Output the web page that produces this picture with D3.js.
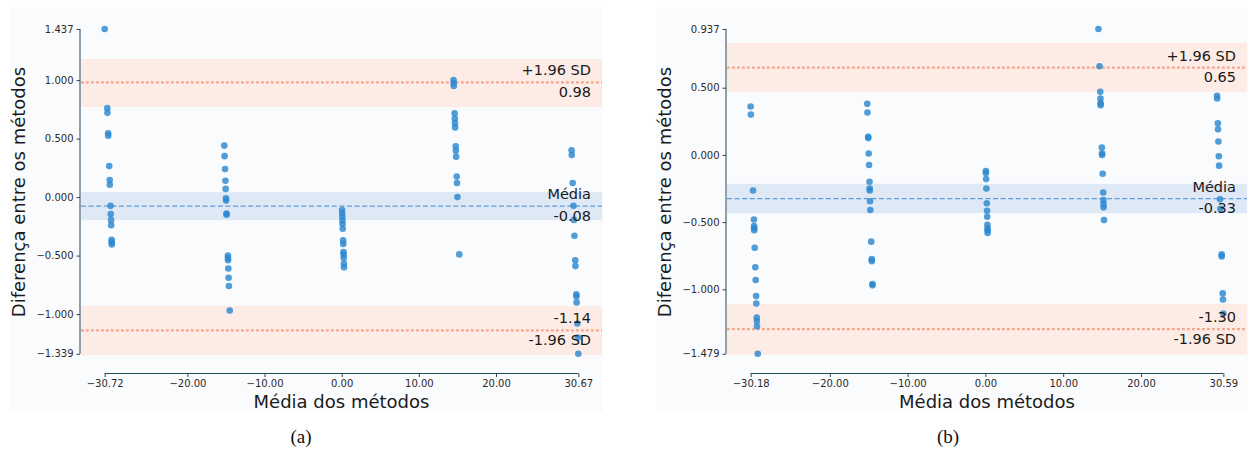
<!DOCTYPE html>
<html>
<head>
<meta charset="utf-8">
<script src="https://cdn.jsdelivr.net/npm/d3@7"></script>
<style>
  html, body { margin: 0; padding: 0; background: #ffffff; }
  svg { display: block; }
</style>
</head>
<body>
<svg id="chart" width="1248" height="450"></svg>
<script>
// ---------------- Panel (a) data ----------------
const meanA = [
  -30.72, -30.38, -30.36, -30.27, -30.26, -30.13, -30.07, -30.05, -29.96, -29.93, -29.90, -29.88, -29.82, -29.81, -29.80,
  -15.22, -15.18, -15.12, -15.07, -15.04, -14.995, -14.985, -14.93, -14.925, -14.75, -14.74, -14.73, -14.695, -14.655, -14.62, -14.515,
  0.055, 0.07, 0.085, 0.10, 0.115, 0.135, 0.185, 0.20, 0.235, 0.245, 0.26, 0.285, 0.30,
  14.50, 14.51, 14.525, 14.64, 14.665, 14.685, 14.70, 14.78, 14.80, 14.83, 14.91, 14.94, 15.0, 15.245,
  29.80, 29.82, 29.94, 30.04, 30.10, 30.165, 30.27, 30.295, 30.415, 30.425, 30.45, 30.54, 30.60, 30.67
];
const diffA = [
  1.437, 0.76, 0.72, 0.545, 0.525, 0.265, 0.145, 0.105, -0.075, -0.145, -0.195, -0.24, -0.365, -0.385, -0.405,
  0.44, 0.35, 0.24, 0.14, 0.07, -0.01, -0.03, -0.14, -0.15, -0.50, -0.52, -0.54, -0.61, -0.69, -0.76, -0.97,
  -0.11, -0.14, -0.17, -0.20, -0.23, -0.27, -0.37, -0.40, -0.47, -0.49, -0.52, -0.57, -0.60,
  1.00, 0.975, 0.95, 0.715, 0.67, 0.63, 0.595, 0.435, 0.395, 0.345, 0.175, 0.12, 0.0, -0.49,
  0.40, 0.36, 0.12, -0.075, -0.195, -0.33, -0.54, -0.59, -0.83, -0.85, -0.90, -1.08, -1.20, -1.339
];
const xTicksA = [-30.72, -20, -10, 0, 10, 20, 30.67];
const yTicksA = [-1.339, -1.0, -0.5, 0, 0.5, 1.0, 1.437];
// lines: [upper LoA, mean, lower LoA]
const linesA = [0.98, -0.077, -1.14];
const bandsA = [[0.77, 1.18], [-0.197, 0.043], [-1.35, -0.93]];
const labelsA = [["+1.96 SD", "0.98"], ["Média", "-0.08"], ["-1.14", "-1.96 SD"]];

// ---------------- Panel (b) data ----------------
const meanB = [
  -30.18, -30.15, -29.87, -29.76, -29.735, -29.73, -29.72, -29.655, -29.58, -29.535, -29.475, -29.45, -29.395, -29.38, -29.36, -29.26,
  -15.19, -15.16, -15.07, -15.06, -15.005, -14.96, -14.90, -14.875, -14.87, -14.83, -14.795, -14.68, -14.61, -14.605, -14.52, -14.515,
  0.06, 0.07, 0.09, 0.125, 0.18, 0.21, 0.23, 0.26, 0.27, 0.28, 0.29,
  14.53, 14.67, 14.765, 14.79, 14.81, 14.815, 14.97, 14.995, 15.0, 15.07, 15.14, 15.17, 15.18, 15.195, 15.245,
  29.78, 29.79, 29.88, 29.905, 29.95, 30.005, 30.04, 30.165, 30.20, 30.37, 30.38, 30.515, 30.54, 30.59
];
const diffB = [
  0.36, 0.30, -0.265, -0.48, -0.53, -0.545, -0.56, -0.69, -0.835, -0.93, -1.05, -1.105, -1.21, -1.235, -1.275, -1.479,
  0.38, 0.315, 0.135, 0.125, 0.01, -0.075, -0.20, -0.25, -0.265, -0.345, -0.41, -0.645, -0.775, -0.79, -0.96, -0.97,
  -0.12, -0.135, -0.18, -0.25, -0.36, -0.415, -0.46, -0.52, -0.545, -0.56, -0.58,
  0.937, 0.66, 0.47, 0.42, 0.385, 0.37, 0.055, 0.012, 0.0, -0.14, -0.28, -0.335, -0.365, -0.39, -0.485,
  0.44, 0.42, 0.235, 0.19, 0.10, -0.01, -0.08, -0.33, -0.40, -0.74, -0.755, -1.03, -1.075, -1.18
];
const xTicksB = [-30.18, -20, -10, 0, 10, 20, 30.59];
const yTicksB = [-1.479, -1.0, -0.5, 0, 0.5, 0.937];
const linesB = [0.649, -0.325, -1.296];
const bandsB = [[0.468, 0.833], [-0.434, -0.216], [-1.487, -1.11]];
const labelsB = [["+1.96 SD", "0.65"], ["Média", "-0.33"], ["-1.30", "-1.96 SD"]];

const captions = ["(a)", "(b)"];
const xTitle = "Média dos métodos";
const yTitle = "Diferença entre os métodos";

// ---------------- Drawing ----------------
const svg = d3.select("#chart");
const FONT = "'DejaVu Sans', sans-serif";
const LOA_COLOR = "#f6a68a";
const LOA_BAND = "#fdece5";
const MEAN_COLOR = "#5d9ddb";
const MEAN_BAND = "#dfe8f5";
const DOT = "#2b88cf";
const SPINE = "#22495a";
const TICKTXT = "#2a2a2a";

function panel(cfg) {
  const g = svg.append("g");
  // figure background
  g.append("rect").attr("x", cfg.bg[0]).attr("y", 7)
    .attr("width", cfg.bg[1] - cfg.bg[0]).attr("height", 405)
    .attr("fill", "#fafbfd");

  const data = cfg.mean.map((m, i) => ({ x: m, y: cfg.diff[i] }));
  const xe = d3.extent(cfg.mean), ye = d3.extent(cfg.diff);
  const xm = (xe[1] - xe[0]) * 0.05, ym = (ye[1] - ye[0]) * 0.05;
  const x = d3.scaleLinear().domain([xe[0] - xm, xe[1] + xm]).range([cfg.left, cfg.right]);
  const y = d3.scaleLinear().domain([ye[0] - ym, ye[1] + ym]).range([370, 12.7]);

  // bands
  cfg.bands.forEach((b, i) => {
    g.append("rect")
      .attr("x", cfg.left).attr("width", cfg.right - cfg.left)
      .attr("y", y(b[1])).attr("height", y(b[0]) - y(b[1]))
      .attr("fill", i === 1 ? MEAN_BAND : LOA_BAND);
  });
  // lines
  cfg.lines.forEach((v, i) => {
    g.append("line")
      .attr("x1", cfg.left).attr("x2", cfg.right)
      .attr("y1", y(v)).attr("y2", y(v))
      .attr("stroke", i === 1 ? MEAN_COLOR : LOA_COLOR)
      .attr("stroke-width", i === 1 ? 1.3 : 2.2)
      .attr("stroke-dasharray", i === 1 ? "5,2.6" : "2.8,2.2");
  });
  // points
  g.append("g").selectAll("circle").data(data).join("circle")
    .attr("cx", d => x(d.x)).attr("cy", d => y(d.y)).attr("r", 3.3)
    .attr("fill", DOT).attr("fill-opacity", 0.82);

  // y axis (bounded spine)
  const yAxis = d3.axisLeft(y).tickValues(cfg.yTicks).tickSize(3.5).tickPadding(3)
    .tickFormat(d => d3.format(".3f")(d).replace("-", "\u2212"));
  const ya = g.append("g").attr("transform", `translate(${cfg.left - 1},0)`).call(yAxis);
  ya.select(".domain").remove();
  ya.append("line").attr("x1", 0).attr("x2", 0)
    .attr("y1", y(ye[1])).attr("y2", y(ye[0]))
    .attr("stroke", SPINE).attr("stroke-width", 1);
  ya.selectAll(".tick line").attr("stroke", SPINE);
  ya.selectAll(".tick text").attr("fill", TICKTXT).style("font-family", FONT).style("font-size", "10px");

  // x axis (bounded spine)
  const xAxis = d3.axisBottom(x).tickValues(cfg.xTicks).tickSize(3.5).tickPadding(3)
    .tickFormat(d => d3.format(".2f")(d).replace("-", "\u2212"));
  const xa = g.append("g").attr("transform", `translate(0,373.5)`).call(xAxis);
  xa.select(".domain").remove();
  xa.append("line").attr("y1", 0).attr("y2", 0)
    .attr("x1", x(xe[0])).attr("x2", x(xe[1]))
    .attr("stroke", SPINE).attr("stroke-width", 1);
  xa.selectAll(".tick line").attr("stroke", SPINE);
  xa.selectAll(".tick text").attr("fill", TICKTXT).style("font-family", FONT).style("font-size", "10px");

  // annotations
  cfg.lines.forEach((v, i) => {
    const lbl = cfg.labels[i];
    g.append("text").attr("x", cfg.right - 11).attr("y", y(v) - 7)
      .attr("text-anchor", "end").style("font-family", FONT).style("font-size", "14.5px")
      .attr("fill", "#1a1a1a").text(lbl[0]);
    g.append("text").attr("x", cfg.right - 11).attr("y", y(v) + 14.5)
      .attr("text-anchor", "end").style("font-family", FONT).style("font-size", "14.5px")
      .attr("fill", "#1a1a1a").text(lbl[1]);
  });

  // axis titles
  g.append("text").attr("x", (cfg.left + cfg.right) / 2).attr("y", 408)
    .attr("text-anchor", "middle").style("font-family", FONT).style("font-size", "18px")
    .attr("fill", "#1a1a1a").text(xTitle);
  g.append("text")
    .attr("transform", `translate(${cfg.left - 56},192) rotate(-90)`)
    .attr("text-anchor", "middle").style("font-family", FONT).style("font-size", "18px")
    .attr("fill", "#1a1a1a").text(yTitle);

  // caption
  g.append("text").attr("x", cfg.capX).attr("y", 443)
    .attr("text-anchor", "middle").style("font-family", "'Liberation Serif', 'Times New Roman', serif")
    .style("font-size", "19px").attr("fill", "#111").text(cfg.caption);
}

panel({
  mean: meanA, diff: diffA, xTicks: xTicksA, yTicks: yTicksA,
  lines: linesA, bands: bandsA, labels: labelsA,
  left: 81, right: 602, bg: [10, 603], capX: 301, caption: captions[0]
});
panel({
  mean: meanB, diff: diffB, xTicks: xTicksB, yTicks: yTicksB,
  lines: linesB, bands: bandsB, labels: labelsB,
  left: 727, right: 1247, bg: [656, 1248], capX: 948, caption: captions[1]
});
</script>
</body>
</html>
